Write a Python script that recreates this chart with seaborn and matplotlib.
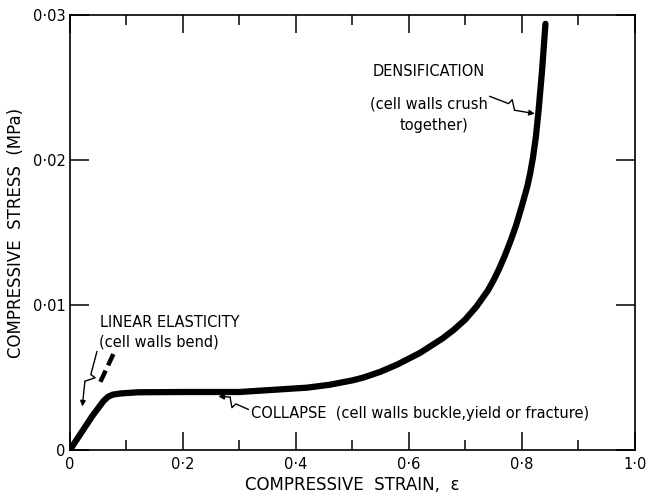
import numpy as np
import pandas as pd
import matplotlib
matplotlib.use("Agg")
import matplotlib.pyplot as plt
import seaborn as sns

# ---- data ----
strain = [0.0, 0.02, 0.04, 0.06, 0.068, 0.076, 0.09, 0.12, 0.2, 0.3, 0.34, 0.38,
          0.42, 0.46, 0.5, 0.52, 0.55, 0.58, 0.6, 0.62, 0.64, 0.66, 0.68, 0.70,
          0.72, 0.74, 0.75, 0.76, 0.77, 0.78, 0.79, 0.80, 0.81, 0.815, 0.82,
          0.825, 0.83, 0.836, 0.842]
stress = [0.0, 0.00118, 0.00236, 0.0034, 0.00368, 0.00382, 0.0039, 0.00398, 0.004,
          0.004, 0.0041, 0.0042, 0.0043, 0.0045, 0.0048, 0.0050, 0.0054, 0.0059,
          0.0063, 0.0067, 0.0072, 0.0077, 0.0083, 0.0090, 0.0099, 0.0110, 0.0117,
          0.0125, 0.0134, 0.0144, 0.0155, 0.0168, 0.0182, 0.0191, 0.0202, 0.0216,
          0.0235, 0.0262, 0.0294]
elastic_strain = [0.054, 0.078]
elastic_stress = [0.0047, 0.0067]

x_ticks = [0, 0.2, 0.4, 0.6, 0.8, 1.0]
x_ticklabels = ["0", "0·2", "0·4", "0·6", "0·8", "1·0"]
x_minor = [0.1, 0.3, 0.5, 0.7, 0.9]
y_ticks = [0, 0.01, 0.02, 0.03]
y_ticklabels = ["0", "0·01", "0·02", "0·03"]

df = pd.DataFrame({"strain": strain, "stress": stress})
df_el = pd.DataFrame({"strain": elastic_strain, "stress": elastic_stress})

sns.set_theme(style="ticks")
plt.rcParams["font.family"] = ["DejaVu Sans"]
plt.rcParams.update({"text.color": "black", "axes.labelcolor": "black",
                     "xtick.color": "black", "ytick.color": "black",
                     "axes.edgecolor": "black"})

fig = plt.figure(figsize=(6.47, 4.97), dpi=100)
ax = fig.add_axes([0.108, 0.0946, 0.873, 0.875])

sns.lineplot(data=df, x="strain", y="stress", sort=False, ax=ax, color="black",
             lw=4.5, solid_capstyle="round", solid_joinstyle="round")
sns.lineplot(data=df_el, x="strain", y="stress", sort=False, ax=ax, color="black",
             lw=3.2, linestyle=(0, (2.8, 1.3)))

ax.set_xlim(0, 1.0)
ax.set_ylim(0, 0.03)
ax.set_xticks(x_ticks)
ax.set_xticklabels(x_ticklabels, fontsize=10.5)
ax.set_xticks(x_minor, minor=True)
ax.set_yticks(y_ticks)
ax.set_yticklabels(y_ticklabels, fontsize=10.5)
ax.tick_params(axis="x", which="major", direction="in", length=13, width=1.1,
               top=True, pad=5, colors="black")
ax.tick_params(axis="x", which="minor", direction="in", length=7, width=1.1,
               top=True)
ax.tick_params(axis="y", which="major", direction="in", length=14, width=1.1,
               right=True, pad=3)
for s in ax.spines.values():
    s.set_visible(True)
    s.set_linewidth(1.2)
    s.set_color("black")

ax.set_xlabel("COMPRESSIVE  STRAIN,  ε", fontsize=12, labelpad=3)
ax.set_ylabel("COMPRESSIVE  STRESS  (MPa)", fontsize=12, labelpad=6)


def lightning(tail, tip):
    """Arrow from tail to tip with a small zigzag (in display space)."""
    T = ax.transData
    p0 = np.array(T.transform(tail))
    p1 = np.array(T.transform(tip))
    d = p1 - p0
    L = np.hypot(*d)
    u = d / L
    n = np.array([-u[1], u[0]])
    a = p0 + u * L * 0.42
    b = a + n * 5 + u * 2
    c = b - n * 9 + u * 6
    pts = np.array([p0, a, b, c])
    pts_d = T.inverted().transform(pts)
    ax.plot(pts_d[:, 0], pts_d[:, 1], color="black", lw=1.0)
    ax.annotate("", xy=tip, xytext=tuple(pts_d[-1]),
                arrowprops=dict(arrowstyle="-|>", color="black", lw=1.0,
                                mutation_scale=8, shrinkA=0, shrinkB=0))


fs = 10.5
ax.text(0.536, 0.0261, "DENSIFICATION", fontsize=fs, va="center", ha="left")
ax.text(0.532, 0.0239, "(cell walls crush", fontsize=fs, va="center", ha="left")
ax.text(0.584, 0.0224, "together)", fontsize=fs, va="center", ha="left")
lightning((0.743, 0.0244), (0.823, 0.0232))

ax.text(0.053, 0.0088, "LINEAR ELASTICITY", fontsize=fs, va="center", ha="left")
ax.text(0.052, 0.00745, "(cell walls bend)", fontsize=fs, va="center", ha="left")
lightning((0.048, 0.0068), (0.022, 0.0030))

ax.text(0.32, 0.00255, "COLLAPSE  (cell walls buckle,yield or fracture)",
        fontsize=fs, va="center", ha="left")
lightning((0.316, 0.0028), (0.263, 0.0037))

fig.savefig("out.png", dpi=100)
